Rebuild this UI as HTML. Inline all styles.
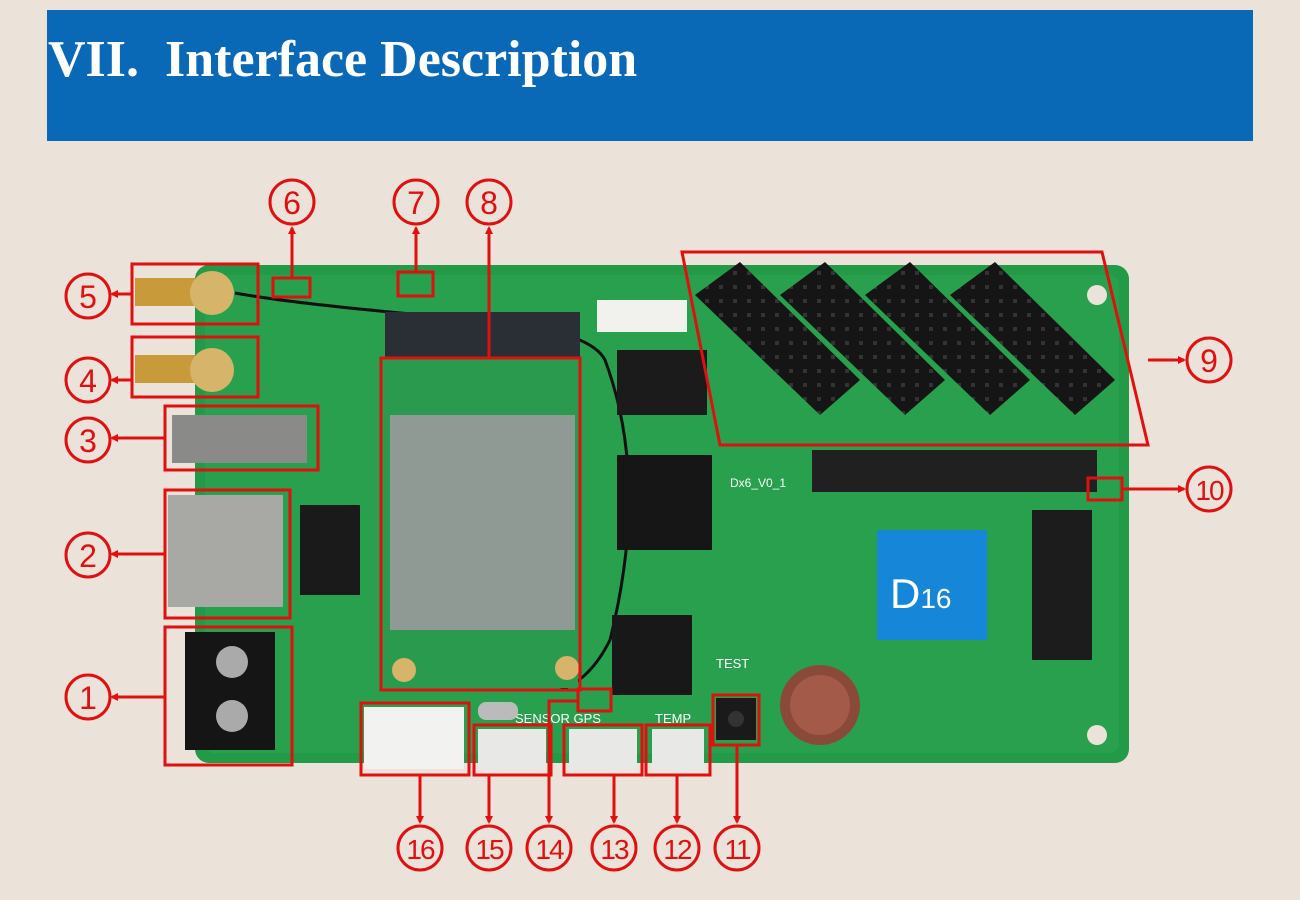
<!DOCTYPE html>
<html><head><meta charset="utf-8"><style>
html,body{margin:0;padding:0;background:#ebe2d9;}
body{width:1300px;height:900px;position:relative;overflow:hidden;font-family:"Liberation Sans",sans-serif;}
</style></head><body>
<svg width="1300" height="900" viewBox="0 0 1300 900" xmlns="http://www.w3.org/2000/svg" style="position:absolute;left:0;top:0">
<defs>
<marker id="ah" markerWidth="8" markerHeight="8" refX="6" refY="4" orient="auto" markerUnits="userSpaceOnUse"><path d="M0,0 L8,4 L0,8 z" fill="#e01010"/></marker>
<pattern id="hdr" width="14" height="14" patternUnits="userSpaceOnUse"><rect width="14" height="14" fill="#151515"/><rect x="5" y="5" width="4" height="4" fill="#333"/></pattern>
</defs>
<rect x="47" y="10" width="1206" height="131" fill="#0a69b6"/>
<text x="48" y="76" font-family="Liberation Serif,serif" font-weight="bold" font-size="52" fill="#fff" xml:space="preserve" style="white-space:pre">VII.  Interface Description</text>

<rect x="195" y="265" width="934" height="498" rx="14" fill="#229a48"/>
<rect x="205" y="275" width="914" height="478" rx="10" fill="#28a04e"/>
<circle cx="1097" cy="295" r="10" fill="#ebe2d9"/><circle cx="1097" cy="735" r="10" fill="#ebe2d9"/>
<rect x="135" y="278" width="60" height="28" fill="#c89a3a"/><circle cx="212" cy="293" r="22" fill="#d6b46a"/>
<rect x="135" y="355" width="60" height="28" fill="#c89a3a"/><circle cx="212" cy="370" r="22" fill="#d6b46a"/>
<path d="M235,293 Q300,305 480,320 Q590,330 605,360 Q650,480 610,640 Q590,680 560,690" stroke="#111" stroke-width="3" fill="none"/>
<rect x="172" y="415" width="135" height="48" fill="#8a8a88"/>
<rect x="168" y="495" width="115" height="112" fill="#a8a8a4"/>
<rect x="300" y="505" width="60" height="90" fill="#1a1a1a"/>
<rect x="185" y="632" width="90" height="118" fill="#151515"/>
<circle cx="232" cy="662" r="16" fill="#aaa"/><circle cx="232" cy="716" r="16" fill="#aaa"/>
<rect x="385" y="312" width="195" height="45" fill="#2a2f35"/>
<rect x="383" y="358" width="195" height="330" fill="#2a9a4e"/>
<rect x="390" y="415" width="185" height="215" fill="#8f9a94"/>
<circle cx="404" cy="670" r="12" fill="#d6b46a"/><circle cx="567" cy="668" r="12" fill="#d6b46a"/>
<rect x="617" y="350" width="90" height="65" fill="#1b1b1b"/>
<rect x="617" y="455" width="95" height="95" fill="#161616"/>
<rect x="612" y="615" width="80" height="80" fill="#181818"/>
<rect x="1032" y="510" width="60" height="150" fill="#1c1c1c"/>
<rect x="597" y="300" width="90" height="32" fill="#f1f1ee"/>
<rect x="812" y="450" width="285" height="42" fill="#202020"/>
<polygon points="695,295 740,262 860,380 820,415" fill="url(#hdr)"/>
<polygon points="780,295 825,262 945,380 905,415" fill="url(#hdr)"/>
<polygon points="865,295 910,262 1030,380 990,415" fill="url(#hdr)"/>
<polygon points="950,295 995,262 1115,380 1075,415" fill="url(#hdr)"/>
<rect x="877" y="530" width="110" height="110" fill="#1586d8"/>
<text x="890" y="608" font-size="42" fill="#fff">D<tspan font-size="28">16</tspan></text>
<text x="730" y="487" font-size="12" fill="#fff">Dx6_V0_1</text>
<circle cx="820" cy="705" r="40" fill="#8a4a3a"/><circle cx="820" cy="705" r="30" fill="#a45a48"/>
<rect x="364" y="707" width="100" height="62" fill="#f2f2f0"/>
<rect x="478" y="729" width="68" height="42" fill="#e8e8e6"/>
<rect x="569" y="729" width="68" height="42" fill="#e8e8e6"/>
<rect x="652" y="729" width="52" height="42" fill="#e8e8e6"/>
<rect x="716" y="698" width="40" height="42" fill="#1a1a1a"/>
<circle cx="736" cy="719" r="8" fill="#333"/>
<text x="716" y="668" font-size="13" fill="#fff">TEST</text>
<text x="515" y="723" font-size="13" fill="#fff">SENSOR GPS</text>
<text x="655" y="723" font-size="13" fill="#fff">TEMP</text>
<rect x="478" y="702" width="40" height="18" rx="8" fill="#bbb"/>

<g stroke="#e01010" stroke-width="3" fill="none">
<rect x="132" y="264" width="126" height="60"/>
<rect x="132" y="337" width="126" height="60"/>
<rect x="165" y="406" width="153" height="64"/>
<rect x="165" y="490" width="125" height="128"/>
<rect x="165" y="627" width="127" height="138"/>
<rect x="273" y="278" width="37" height="19"/>
<rect x="398" y="272" width="35" height="24"/>
<rect x="381" y="358" width="199" height="332"/>
<polygon points="682,252 1102,252 1148,445 720,445"/>
<rect x="1088" y="478" width="34" height="22"/>
<rect x="361" y="703" width="108" height="72"/>
<rect x="474" y="725" width="77" height="50"/>
<rect x="578" y="689" width="33" height="22"/>
<rect x="564" y="725" width="78" height="50"/>
<rect x="646" y="725" width="64" height="50"/>
<rect x="713" y="695" width="46" height="50"/>
<line x1="132" y1="294" x2="112" y2="294" marker-end="url(#ah)"/>
<line x1="132" y1="380" x2="112" y2="380" marker-end="url(#ah)"/>
<line x1="165" y1="438" x2="112" y2="438" marker-end="url(#ah)"/>
<line x1="165" y1="554" x2="112" y2="554" marker-end="url(#ah)"/>
<line x1="165" y1="697" x2="112" y2="697" marker-end="url(#ah)"/>
<line x1="292" y1="278" x2="292" y2="228" marker-end="url(#ah)"/>
<line x1="416" y1="272" x2="416" y2="228" marker-end="url(#ah)"/>
<line x1="489" y1="358" x2="489" y2="228" marker-end="url(#ah)"/>
<line x1="1148" y1="360" x2="1184" y2="360" marker-end="url(#ah)"/>
<line x1="1122" y1="489" x2="1184" y2="489" marker-end="url(#ah)"/>
<line x1="420" y1="775" x2="420" y2="822" marker-end="url(#ah)"/>
<line x1="489" y1="775" x2="489" y2="822" marker-end="url(#ah)"/>
<polyline points="578,701 549,701 549,822" marker-end="url(#ah)"/>
<line x1="614" y1="775" x2="614" y2="822" marker-end="url(#ah)"/>
<line x1="677" y1="775" x2="677" y2="822" marker-end="url(#ah)"/>
<line x1="737" y1="745" x2="737" y2="822" marker-end="url(#ah)"/>
</g>
<g stroke="#e01010" stroke-width="3" fill="none">
<circle cx="88" cy="296" r="22"/><circle cx="88" cy="380" r="22"/><circle cx="88" cy="440" r="22"/>
<circle cx="88" cy="555" r="22"/><circle cx="88" cy="697" r="22"/>
<circle cx="292" cy="202" r="22"/><circle cx="416" cy="202" r="22"/><circle cx="489" cy="202" r="22"/>
<circle cx="1209" cy="360" r="22"/><circle cx="1209" cy="489" r="22"/>
<circle cx="420" cy="848" r="22"/><circle cx="489" cy="848" r="22"/><circle cx="549" cy="848" r="22"/>
<circle cx="614" cy="848" r="22"/><circle cx="677" cy="848" r="22"/><circle cx="737" cy="848" r="22"/>
</g>
<g fill="#e01010" font-size="32" text-anchor="middle" font-family="Liberation Sans,sans-serif">
<text x="88" y="308">5</text><text x="88" y="392">4</text><text x="88" y="452">3</text>
<text x="88" y="567">2</text><text x="88" y="709">1</text>
<text x="292" y="214">6</text><text x="416" y="214">7</text><text x="489" y="214">8</text>
<text x="1209" y="372">9</text>
<text x="1209" y="500" font-size="28" letter-spacing="-2">10</text>
<text x="420" y="859" font-size="28" letter-spacing="-2">16</text><text x="489" y="859" font-size="28" letter-spacing="-2">15</text>
<text x="549" y="859" font-size="28" letter-spacing="-2">14</text><text x="614" y="859" font-size="28" letter-spacing="-2">13</text>
<text x="677" y="859" font-size="28" letter-spacing="-2">12</text><text x="737" y="859" font-size="28" letter-spacing="-2">11</text>
</g>
</svg>
</body></html>
